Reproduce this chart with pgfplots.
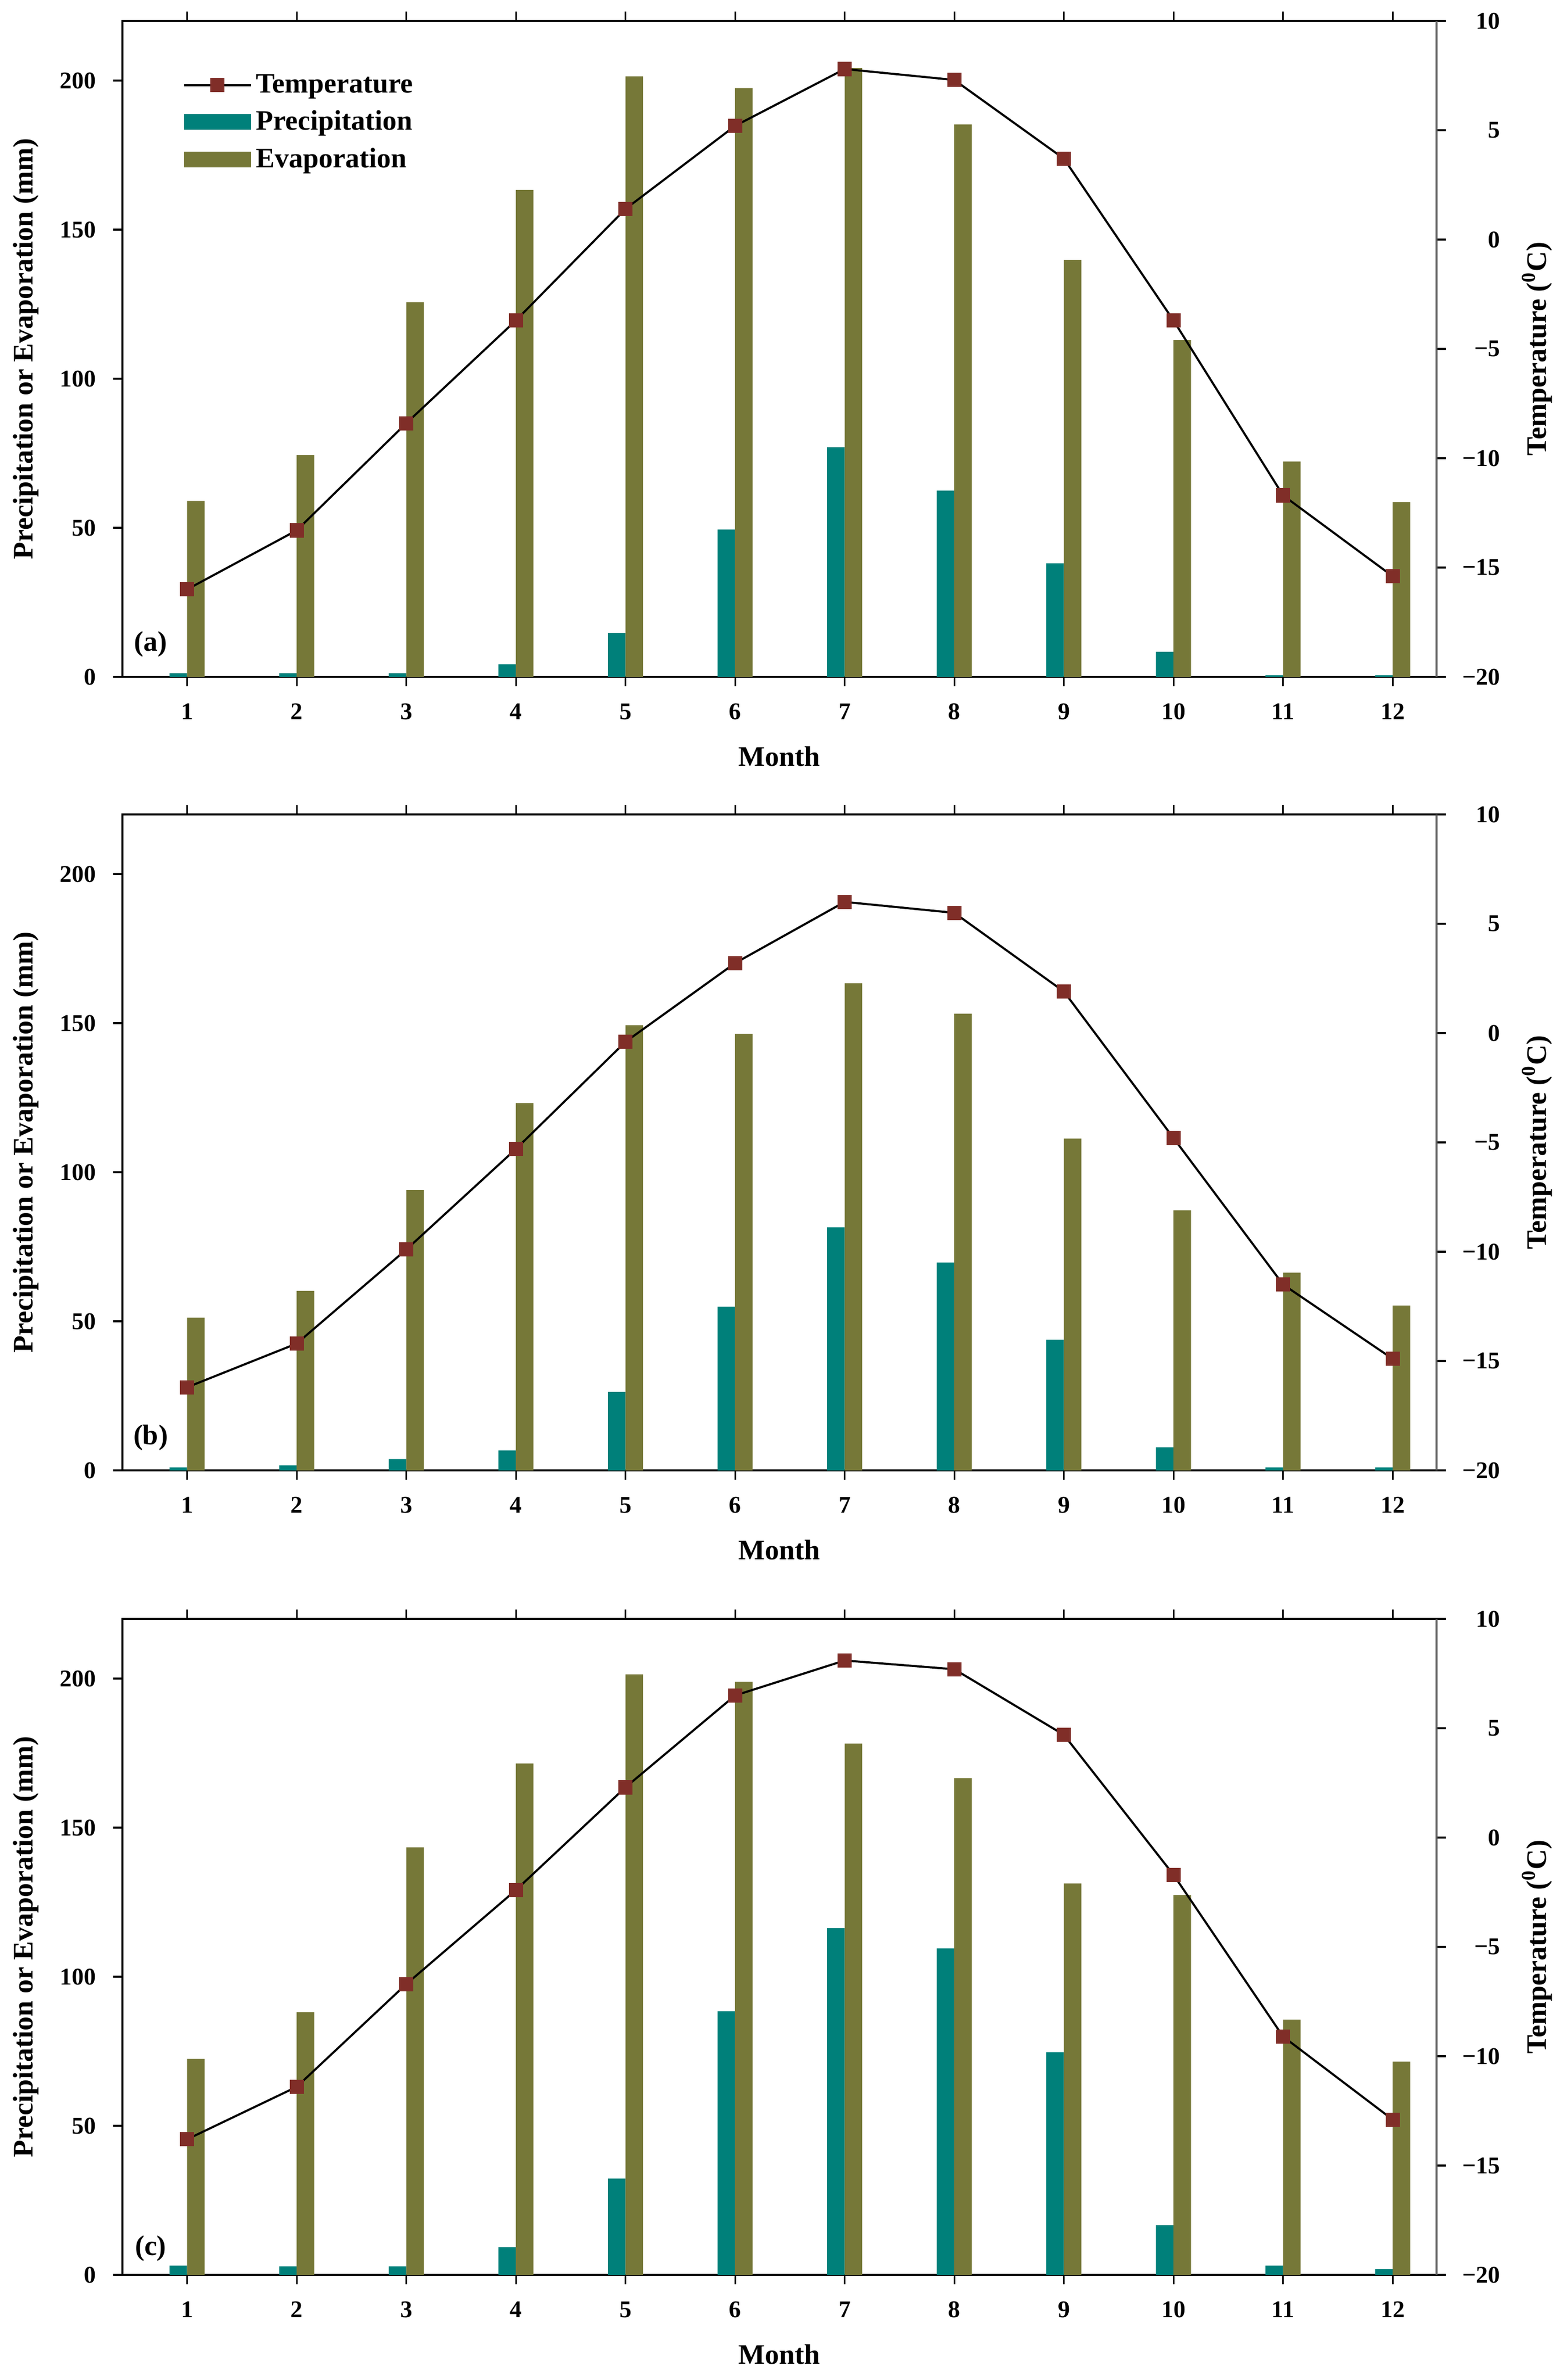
\documentclass[border=0pt]{standalone}
\usepackage{pgfplots}
\pgfplotsset{compat=1.18}
\usepackage{pgfplotstable}
\usepackage{fontspec}
\setmainfont{Liberation Serif}
\definecolor{precip}{RGB}{0,128,122}
\definecolor{evap}{RGB}{118,120,56}
\definecolor{tmark}{RGB}{128,46,40}

\pgfplotstableread{
m P E T
1 1.2 59.0 -16.0
2 1.2 74.4 -13.3
3 1.2 125.7 -8.4
4 4.2 163.3 -3.7
5 14.7 201.4 1.4
6 49.4 197.5 5.2
7 77.0 204.2 7.8
8 62.5 185.3 7.3
9 38.1 139.8 3.7
10 8.4 113.0 -3.7
11 0.5 72.2 -11.7
12 0.5 58.6 -15.4
}\tabA

\pgfplotstableread{
m P E T
1 1.0 51.2 -16.2
2 1.7 60.2 -14.2
3 3.8 94.0 -9.9
4 6.7 123.2 -5.3
5 26.3 149.3 -0.4
6 54.9 146.4 3.2
7 81.5 163.4 6.0
8 69.7 153.2 5.5
9 43.8 111.3 1.9
10 7.7 87.2 -4.8
11 1.0 66.3 -11.5
12 1.0 55.3 -14.9
}\tabB

\pgfplotstableread{
m P E T
1 3.1 72.5 -13.8
2 2.9 88.1 -11.4
3 2.9 143.4 -6.7
4 9.3 171.5 -2.4
5 32.3 201.4 2.3
6 88.4 198.9 6.5
7 116.3 178.2 8.1
8 109.5 166.6 7.7
9 74.7 131.3 4.7
10 16.7 127.4 -1.7
11 3.1 85.6 -9.1
12 1.9 71.5 -12.9
}\tabC

\newcommand\ticksfont{\fontsize{11.5}{13}\selectfont\bfseries}
\newcommand\labfont{\fontsize{13.5}{16}\selectfont\bfseries}

\pgfplotsset{
  barleg/.style={legend image code/.code={\fill (0pt,-3.75pt) rectangle (32pt,3.75pt);}},
  lineleg/.style={legend image code/.code={\draw[mark repeat=2,mark phase=2] plot coordinates {(0pt,0pt) (16pt,0pt) (32pt,0pt)};}},
  common/.style={
    scale only axis, width=628pt, height=313.5pt,
    xmin=0.41, xmax=12.4,
    tick align=outside, major tick length=4.5pt,
    tick style={line width=0.8pt, black},
    tick label style={font=\ticksfont},
    /pgf/number format/assume math mode=true,
    label style={font=\labfont},
  },
  leftax/.style={
    common,
    ymin=0, ymax=220,
    xtick={1,...,12}, ytick={0,50,100,150,200},
    xtick pos=both, ytick pos=left,
    axis line style={line width=0.8pt},
    xticklabel style={yshift=-4.7pt},
    yticklabel style={xshift=-4.7pt},
    xlabel={Month},
    ylabel={Precipitation or Evaporation (mm)},
    xlabel style={at={(axis description cs:0.5,-0.1211)}, anchor=center},
    ylabel style={at={(axis description cs:-0.0736,0.5)}, anchor=center},
  },
  rightax/.style={
    common,
    ymin=-20, ymax=10,
    hide x axis,
    axis y line*=right,
    y axis line style={-, line width=1.2pt, black!65},
    ytick={-20,-15,-10,-5,0,5,10},
    yticklabels={−20,−15,−10,−5,0,5,10},
    yticklabel style={anchor=east, xshift=29.5pt},
    ylabel={Temperature (\textsuperscript{0}C)},
    ylabel style={at={(axis description cs:1.0764,0.5)}, anchor=center},
  },
  tline/.style={black, line width=1pt, mark=square*, mark size=2.9pt, mark options={fill=tmark, draw=tmark, solid}},
  pbar/.style={ybar, bar width=0.16, bar shift=-0.08, fill=precip, draw=none, barleg},
  ebar/.style={ybar, bar width=0.16, bar shift=0.08, fill=evap, draw=none, barleg},
}

\begin{document}
\begin{tikzpicture}
\useasboundingbox (-58.5pt,10pt) rectangle (687pt,-1127.5pt);

% ---------- (a)
\begin{axis}[leftax, at={(0pt,0pt)}, anchor=north west,
  legend style={at={(axis description cs:0.041,0.932)}, anchor=north west, draw=none, fill=none, font=\labfont, row sep=3pt},
  legend cell align=left]
\addlegendimage{tline, lineleg}
\addlegendentry{Temperature}
\addplot[pbar] table[x=m,y=P]{\tabA};
\addlegendentry{Precipitation}
\addplot[ebar] table[x=m,y=E]{\tabA};
\addlegendentry{Evaporation}
\node[font=\labfont] at (rel axis cs:0.0215,0.05) {(a)};
\end{axis}
\begin{axis}[rightax, at={(0pt,0pt)}, anchor=north west]
\addplot[tline] table[x=m,y=T]{\tabA};
\end{axis}

% ---------- (b)
\begin{axis}[leftax, at={(0pt,-379.25pt)}, anchor=north west]
\addplot[pbar] table[x=m,y=P]{\tabB};
\addplot[ebar] table[x=m,y=E]{\tabB};
\node[font=\labfont] at (rel axis cs:0.0215,0.05) {(b)};
\end{axis}
\begin{axis}[rightax, at={(0pt,-379.25pt)}, anchor=north west]
\addplot[tline] table[x=m,y=T]{\tabB};
\end{axis}

% ---------- (c)
\begin{axis}[leftax, at={(0pt,-763.75pt)}, anchor=north west]
\addplot[pbar] table[x=m,y=P]{\tabC};
\addplot[ebar] table[x=m,y=E]{\tabC};
\node[font=\labfont] at (rel axis cs:0.0215,0.04) {(c)};
\end{axis}
\begin{axis}[rightax, at={(0pt,-763.75pt)}, anchor=north west]
\addplot[tline] table[x=m,y=T]{\tabC};
\end{axis}
\end{tikzpicture}
\end{document}
